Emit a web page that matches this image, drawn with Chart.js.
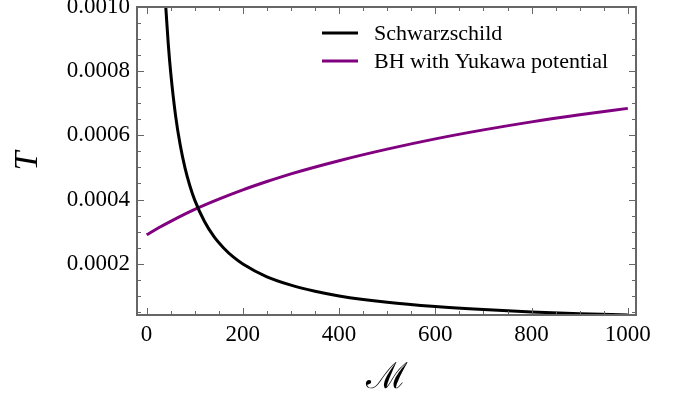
<!DOCTYPE html>
<html>
<head>
<meta charset="utf-8">
<script src="https://cdn.jsdelivr.net/npm/chart.js@4.4.1/dist/chart.umd.min.js"></script>
<style>
  body { margin: 0; background: #fff; }
  #wrap { width: 683px; height: 396px; }
</style>
</head>
<body>
<div id="wrap"><canvas id="chart" width="683" height="396"></canvas></div>
<script>
// values
const schwM = [39.8, 45, 50, 60, 70, 80, 90, 100, 120, 140, 160, 180, 200, 250, 300, 350, 400, 500, 600, 700, 800, 900, 1000];
const schwT = [0.00100, 0.000884, 0.000796, 0.000663, 0.000568, 0.000497, 0.000442, 0.000398, 0.000332, 0.000284, 0.000249, 0.000221, 0.000199, 0.000159, 0.000133, 0.000114, 0.0000995, 0.0000796, 0.0000663, 0.0000568, 0.0000497, 0.0000442, 0.0000398];

const yukM = [0, 25, 50, 100, 150, 200, 250, 300, 400, 500, 600, 700, 800, 900, 1000];
const yukT = [0.000290, 0.000312, 0.000332, 0.000369, 0.000401, 0.000430, 0.000456, 0.000480, 0.000521, 0.000557, 0.000589, 0.000617, 0.000642, 0.000664, 0.000684];

const xTicks = [0, 200, 400, 600, 800, 1000];
const yTicks = [0.0002, 0.0004, 0.0006, 0.0008, 0.0010];
const seriesNames = ['Schwarzschild', 'BH with Yukawa potential'];
const seriesColors = ['#000000', '#800080'];

const toPoints = (xs, ys) => xs.map((x, i) => ({ x: x, y: ys[i] }));

const FONT = '"Liberation Serif", "Times New Roman", serif';
const FRAME = '#666666';

// frame with inward ticks on all four sides, plus the legend
const framePlugin = {
  id: 'frame',
  afterDraw(chart) {
    const ctx = chart.ctx;
    const a = chart.chartArea;
    const xs = chart.scales.x, ys = chart.scales.y;
    ctx.save();
    ctx.strokeStyle = FRAME;
    ctx.lineWidth = 1;
    for (let v = 0; v <= 1000; v += 50) {
      const px = Math.round(xs.getPixelForValue(v)) + 0.5;
      const len = v % 200 === 0 ? 7 : 4;
      ctx.beginPath();
      ctx.moveTo(px, a.bottom); ctx.lineTo(px, a.bottom - len);
      ctx.moveTo(px, a.top); ctx.lineTo(px, a.top + len);
      ctx.stroke();
    }
    for (let k = 1; k <= 20; k++) {
      const v = k * 0.00005;
      const py = Math.round(ys.getPixelForValue(v)) + 0.5;
      const len = k % 4 === 0 ? 7 : 4;
      ctx.beginPath();
      ctx.moveTo(a.left, py); ctx.lineTo(a.left + len, py);
      ctx.moveTo(a.right, py); ctx.lineTo(a.right - len, py);
      ctx.stroke();
    }
    ctx.lineWidth = 2;
    ctx.strokeRect(a.left, a.top, a.right - a.left, a.bottom - a.top);

    // legend
    ctx.font = '22px ' + FONT;
    ctx.textBaseline = 'middle';
    ctx.fillStyle = '#000';
    const rows = [34, 62];
    rows.forEach((y, i) => {
      ctx.strokeStyle = seriesColors[i];
      ctx.lineWidth = 3;
      ctx.beginPath();
      ctx.moveTo(322, y - 1); ctx.lineTo(358, y - 1);
      ctx.stroke();
      ctx.fillText(seriesNames[i], 374, y);
    });
    ctx.restore();
  }
};

new Chart(document.getElementById('chart'), {
  type: 'line',
  data: {
    datasets: [{
      label: seriesNames[0],
      data: toPoints(schwM, schwT),
      borderColor: seriesColors[0],
      borderWidth: 3,
      pointRadius: 0,
      cubicInterpolationMode: 'monotone',
      fill: false
    }, {
      label: seriesNames[1],
      data: toPoints(yukM, yukT),
      borderColor: seriesColors[1],
      borderWidth: 3,
      pointRadius: 0,
      cubicInterpolationMode: 'monotone',
      fill: false
    }]
  },
  options: {
    responsive: false,
    animation: false,
    layout: { padding: { top: 7, right: 47, left: 0, bottom: 0 } },
    plugins: {
      legend: { display: false },
      tooltip: { enabled: false }
    },
    scales: {
      x: {
        type: 'linear',
        min: -20,
        max: 1017,
        grid: { display: false, drawTicks: false },
        border: { display: false },
        afterBuildTicks: (s) => { s.ticks = xTicks.map(v => ({ value: v })); },
        afterFit: (s) => { s.height = 81; s.paddingLeft = 0; s.paddingRight = 0; },
        ticks: {
          color: '#000',
          padding: 6,
          maxRotation: 0,
          font: { family: FONT, size: 23 },
          callback: (v) => String(v)
        },
        title: {
          display: true,
          text: '\u2133',
          color: '#000',
          font: { family: FONT, size: 36 },
          padding: { top: 0, bottom: -4 }
        }
      },
      y: {
        type: 'linear',
        min: 0.00004,
        max: 0.0010,
        grid: { display: false, drawTicks: false },
        border: { display: false },
        afterBuildTicks: (s) => { s.ticks = yTicks.map(v => ({ value: v })); },
        afterFit: (s) => { s.width = 137; s.paddingTop = 0; s.paddingBottom = 0; },
        ticks: {
          color: '#000',
          padding: 7,
          font: { family: FONT, size: 23 },
          callback: (v) => v.toFixed(4)
        },
        title: {
          display: true,
          text: 'T',
          color: '#000',
          font: { family: FONT, size: 34, style: 'italic' },
          padding: { top: 8, bottom: 0 }
        }
      }
    }
  },
  plugins: [framePlugin]
});
</script>
</body>
</html>
